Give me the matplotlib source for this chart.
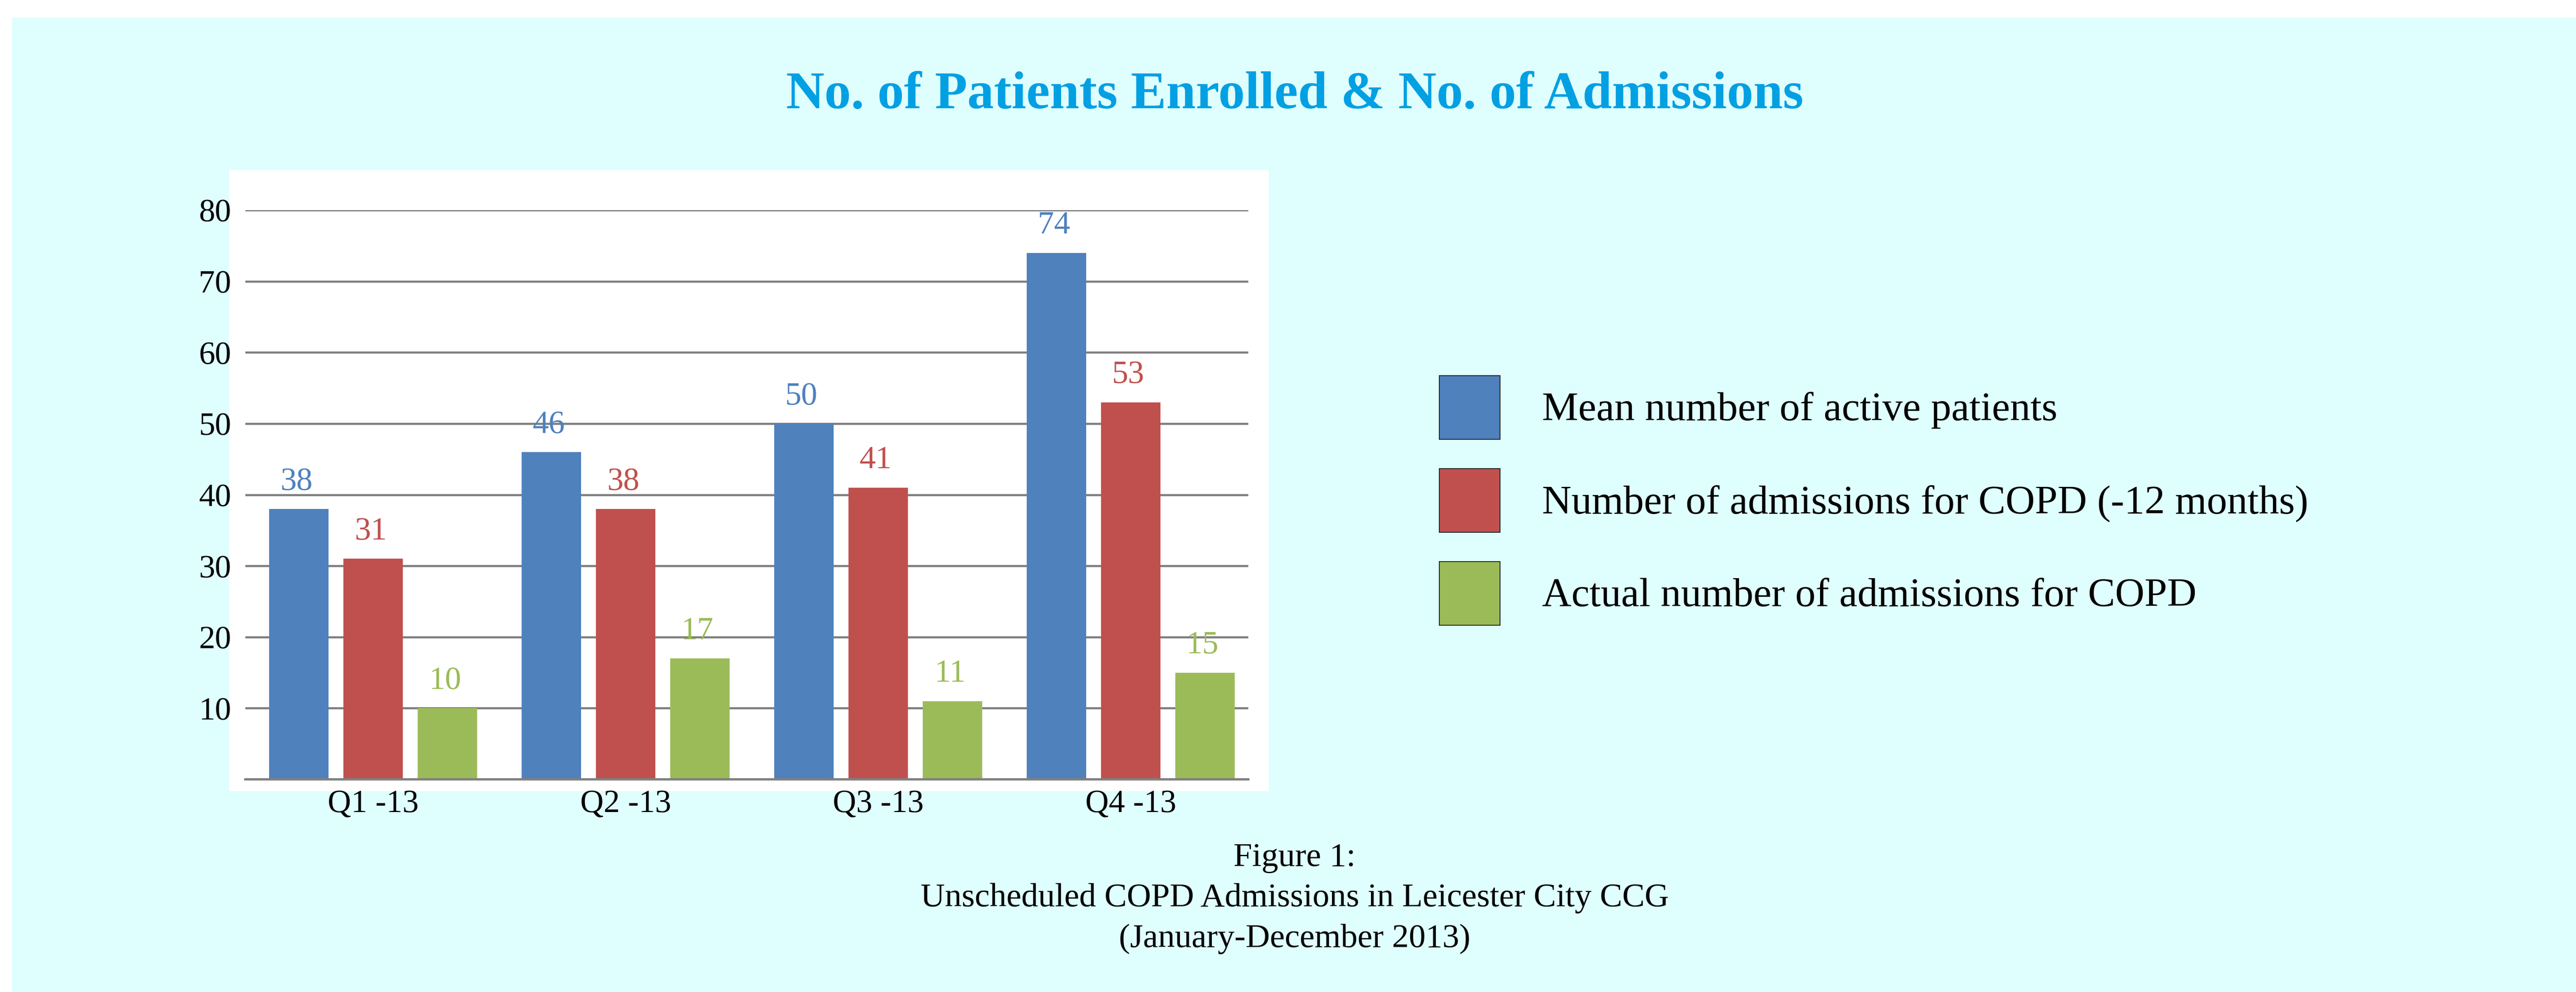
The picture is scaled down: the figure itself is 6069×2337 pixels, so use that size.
import numpy as np
import matplotlib
matplotlib.use('Agg')
import matplotlib.pyplot as plt
from matplotlib.patches import Rectangle, Patch

# Данные
quarters = ['Q1 -13', 'Q2 -13', 'Q3 -13', 'Q4 -13']
mean_active = [38, 46, 50, 74]
admissions_prev = [31, 38, 41, 53]
admissions_actual = [10, 17, 11, 15]

series_names = ['Mean number of active patients',
                'Number of admissions for COPD (-12 months)',
                'Actual number of admissions for COPD']
colors = ['#4F81BD', '#C0504D', '#9BBB59']

title = 'No. of Patients Enrolled & No. of Admissions'
caption = ['Figure 1:',
           'Unscheduled COPD Admissions in Leicester City CCG',
           '(January-December 2013)']

W, H = 6069, 2337
plt.rcParams['font.family'] = ['Liberation Serif', 'DejaVu Serif']

fig = plt.figure(figsize=(W / 100, H / 100), dpi=100, facecolor='white')

# фон
fig.add_artist(Rectangle((28 / W, 0), 1, 1 - 41 / H, transform=fig.transFigure,
                         facecolor='#DFFEFE', edgecolor='none', zorder=-10))
# белая подложка под графиком
fig.add_artist(Rectangle((540 / W, 1 - 1864 / H), (2989 - 540) / W, (1864 - 401) / H,
                         transform=fig.transFigure, facecolor='white',
                         edgecolor='none', zorder=-5))

ax = fig.add_axes([578 / W, 1 - 1836 / H, (2941 - 578) / W, (1836 - 495) / H])
ax.set_facecolor('none')

x = np.arange(len(quarters))
width = 0.235
step = 0.294
all_series = [mean_active, admissions_prev, admissions_actual]
for i, vals in enumerate(all_series):
    pos = x + (i - 1) * step
    ax.bar(pos, vals, width, color=colors[i], zorder=3)
    for p, v in zip(pos, vals):
        ax.text(p - 0.01, v + 2.7, str(v), ha='center', va='baseline',
                fontsize=55, color=colors[i], zorder=4)

ax.set_xlim(-0.506, 3.466)
ax.set_ylim(0, 80)
ax.set_yticks(range(10, 81, 10))
ax.set_xticks(x)
ax.set_xticklabels(quarters)
ax.tick_params(axis='both', length=0, labelsize=55)
ax.tick_params(axis='y', pad=24)
ax.tick_params(axis='x', pad=18)
ax.yaxis.grid(True, color='#808080', linewidth=3.6, zorder=0)
ax.set_axisbelow(True)
for s in ['top', 'right', 'left']:
    ax.spines[s].set_visible(False)
ax.spines['bottom'].set_color('#808080')
ax.spines['bottom'].set_linewidth(4)
ax.spines['bottom'].set_zorder(5)

handles = [Patch(facecolor=c, edgecolor='#222222', linewidth=1.5) for c in colors]
fig.legend(handles, series_names, loc='upper left',
           bbox_to_anchor=(3391 / W, 1 - 885 / H), frameon=False,
           fontsize=69, handlelength=1.49, handleheight=2.03,
           handletextpad=1.04, labelspacing=0.72, borderpad=0, borderaxespad=0)

fig.text(3050 / W, 1 - 255 / H, title, ha='center', va='baseline',
         fontsize=90, fontweight='bold', color='#00A0E3')

for line, yb in zip(caption, [2040, 2135, 2231]):
    fig.text(3050 / W, 1 - yb / H, line, ha='center', va='baseline', fontsize=57)

fig.savefig('out.png', dpi=100, facecolor=fig.get_facecolor())
